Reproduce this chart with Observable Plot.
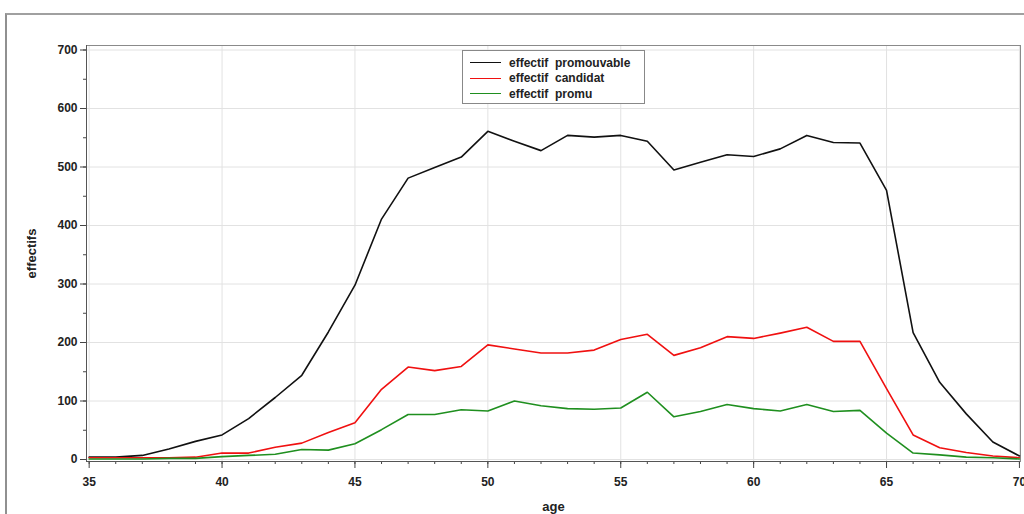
<!DOCTYPE html>
<html>
<head>
<meta charset="utf-8">
<script src="https://cdn.jsdelivr.net/npm/d3@7"></script>
<script src="https://cdn.jsdelivr.net/npm/@observablehq/plot@0.6"></script>
<style>
  html, body { margin: 0; padding: 0; background: #fff; }
  #wrap { position: relative; width: 1024px; height: 514px; overflow: hidden; font-family: "Liberation Sans", Arial, sans-serif; }
  #outer { position: absolute; left: 5px; top: 13px; width: 1100px; height: 600px; border-top: 2px solid #a0a0a0; border-left: 2px solid #909090; pointer-events: none; }
  #legend { position: absolute; left: 462px; top: 50px; width: 183px; height: 54px; border: 1px solid #888; background: #fff; box-sizing: border-box; padding-top: 4px; }
  .row { display: flex; align-items: center; height: 15.5px; font-size: 12px; font-weight: bold; color: #222; }
  .sw { width: 31px; height: 0; border-top: 1.5px solid; margin-left: 7px; margin-right: 8px; }
</style>
</head>
<body>
<div id="wrap"></div>
<script>
const ages = [35,36,37,38,39,40,41,42,43,44,45,46,47,48,49,50,51,52,53,54,55,56,57,58,59,60,61,62,63,64,65,66,67,68,69,70];
const promouvable = [4,4,7,18,31,42,70,106,144,218,298,411,481,499,517,561,544,528,554,551,554,544,495,508,521,518,531,554,542,541,460,217,132,78,30,6];
const candidat = [3,3,3,3,4,11,11,21,28,46,63,120,158,152,159,196,189,182,182,187,205,214,178,191,210,207,216,226,202,202,121,42,20,12,6,3];
const promu = [1,1,1,2,2,5,7,9,17,16,27,51,77,77,85,83,100,92,87,86,88,115,73,82,94,87,83,94,82,84,45,11,8,4,3,1];
const seriesNames = ["effectif  promouvable", "effectif  candidat", "effectif  promu"];
const seriesColors = ["#111111", "#f01010", "#1f8f1f"];
const xMajor = [35,40,45,50,55,60,65,70];
const yMajor = [0,100,200,300,400,500,600,700];

const table = [];
[promouvable, candidat, promu].forEach((vals, s) => {
  ages.forEach((a, i) => table.push({age: a, value: vals[i], series: seriesNames[s]}));
});
const xMinor = d3.range(35, 71, 1);
const yMinor = d3.range(0, 701, 50);

const chart = Plot.plot({
  width: 1024,
  height: 514,
  marginLeft: 86,
  marginRight: 4,
  marginTop: 45,
  marginBottom: 53,
  style: {fontFamily: "'Liberation Sans', Arial, sans-serif", fontSize: "12px", background: "transparent", color: "#222"},
  x: {domain: [34.9, 70.04]},
  y: {domain: [-3.4, 707.7]},
  color: {domain: seriesNames, range: seriesColors},
  marks: [
    Plot.gridX(xMajor, {stroke: "#e2e2e2", strokeOpacity: 1}),
    Plot.gridY(yMajor, {stroke: "#e2e2e2", strokeOpacity: 1}),
    Plot.frame({stroke: "#8a8a8a"}),
    Plot.axisX(xMinor, {tickSize: 3, fill: "none", label: null, stroke: "#444"}),
    Plot.axisX(xMajor, {tickSize: 7, tickPadding: 9, tickFormat: d => String(d), label: "age", labelAnchor: "center", labelArrow: "none", labelOffset: 49, fontSize: 12, fontWeight: "bold", stroke: "#444"}),
    Plot.axisY(yMinor, {tickSize: 3, fill: "none", label: null, stroke: "#444"}),
    Plot.axisY(yMajor, {tickSize: 6, tickPadding: 3, tickFormat: d => String(d), label: "effectifs", labelAnchor: "center", labelArrow: "none", labelOffset: 60, fontSize: 12, fontWeight: "bold", stroke: "#444"}),
    Plot.ruleY([-3.4], {stroke: "#555"}),
    Plot.ruleX([34.9], {stroke: "#555"}),
    Plot.line(table, {x: "age", y: "value", z: "series", stroke: "series", strokeWidth: 1.6})
  ]
});

const wrap = document.getElementById("wrap");
wrap.appendChild(chart);
chart.querySelectorAll("[aria-label='x-axis label'] text, [aria-label='y-axis label'] text").forEach(t => { t.style.fontSize = "13px"; t.style.fontWeight = "bold"; });

const outer = document.createElement("div");
outer.id = "outer";
wrap.appendChild(outer);

const legend = document.createElement("div");
legend.id = "legend";
seriesNames.forEach((n, i) => {
  const r = document.createElement("div");
  r.className = "row";
  const sw = document.createElement("span");
  sw.className = "sw";
  sw.style.borderTopColor = seriesColors[i];
  const tx = document.createElement("span");
  tx.textContent = n;
  tx.style.whiteSpace = "pre";
  r.appendChild(sw); r.appendChild(tx);
  legend.appendChild(r);
});
wrap.appendChild(legend);
</script>
</body>
</html>
